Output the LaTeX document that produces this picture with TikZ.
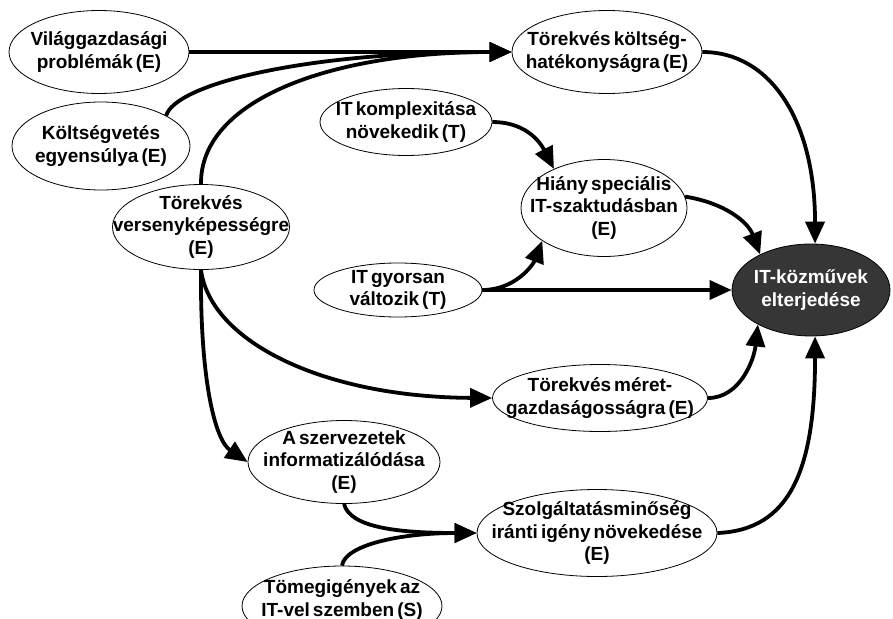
\documentclass[tikz,border=0pt]{standalone}
\usepackage{fontspec}
\setmainfont{Liberation Sans}
\usetikzlibrary{shapes.geometric,arrows.meta}
\definecolor{goalgray}{HTML}{363636}

\tikzset{
  bubble/.style={ellipse, draw=black, line width=0.8pt, fill=white, inner sep=0pt},
  goal/.style={ellipse, draw=black, line width=0.8pt, fill=goalgray, inner sep=0pt},
  bubbletext/.style={font={\bfseries\fontsize{19}{22.5}\selectfont\spaceskip=0.16em plus 0.05em},
                     align=center, inner sep=0pt, text=black},
  goaltext/.style={bubbletext, text=white},
  flow/.style={line width=3.8pt, -{Triangle[length=22pt,width=19pt]}},
}

\begin{document}
\begin{tikzpicture}[x=1pt, y=-1pt]
\useasboundingbox (0,0) rectangle (893,618);
\clip (0,0) rectangle (893,618);

% causes and intermediate effects
\node[bubble, minimum width=180pt, minimum height=83pt,
      label={[bubbletext]center:{Világgazdasági\\problémák (E)}}] (vg) at (99,52) {};
\node[bubble, minimum width=190pt, minimum height=83pt,
      label={[bubbletext]center:{Törekvés költség-\\hatékonyságra (E)}}] (tk) at (607,52) {};
\node[bubble, minimum width=178pt, minimum height=88pt,
      label={[bubbletext]center:{Költségvetés\\egyensúlya (E)}}] (kv) at (101,146) {};
\node[bubble, minimum width=172pt, minimum height=67pt,
      label={[bubbletext]center:{IT komplexitása\\növekedik (T)}}] (ik) at (406,122) {};
\node[bubble, minimum width=166pt, minimum height=97pt,
      label={[bubbletext]center:{Hiány speciális\\IT-szaktudásban\\(E)}}] (hs) at (604,208) {};
\node[bubble, minimum width=177pt, minimum height=85pt,
      label={[bubbletext]center:{Törekvés\\versenyképességre\\(E)}}] (tv) at (201,227) {};
\node[bubble, minimum width=168pt, minimum height=54pt,
      label={[bubbletext]center:{IT gyorsan\\változik (T)}}] (ig) at (398,290) {};
\node[bubble, minimum width=215pt, minimum height=67pt,
      label={[bubbletext]center:{Törekvés méret-\\gazdaságosságra (E)}}] (tm) at (600,398) {};
\node[bubble, minimum width=192pt, minimum height=83pt,
      label={[bubbletext]center:{A szervezetek\\informatizálódása\\(E)}}] (szerv) at (344,462) {};
\node[bubble, minimum width=240pt, minimum height=87pt,
      label={[bubbletext]center:{Szolgáltatásminőség\\iránti igény növekedése\\(E)}}] (sz) at (597,533) {};
\node[bubble, minimum width=200pt, minimum height=80pt,
      label={[bubbletext, yshift=6pt]center:{Tömegigények az\\IT-vel szemben (S)}}] (tg) at (342,606) {};

% final outcome
\node[goal, minimum width=158pt, minimum height=92pt,
      label={[goaltext]center:{IT-közművek\\elterjedése}}] (kz) at (811,290) {};

% influences
\draw[flow] (vg.east) -- (tk.west);
\draw[flow] (kv.25) .. controls (175,85) and (300,52) .. (tk.west);
\draw[flow] (tv.north) .. controls (200,100) and (330,52) .. (tk.west);

\draw[flow] (ik.east) .. controls (522,122) and (538,138) .. (hs.142);
\draw[flow] (ig.east) .. controls (515,290) and (533,265) .. (hs.208);
\draw[flow] (ig.east) -- (kz.west);

\draw[flow] (tk.east) .. controls (770,52) and (815,120) .. (kz.85);
\draw[flow] (hs.8) .. controls (725,203) and (748,222) .. (kz.145);
\draw[flow] (tm.east) .. controls (740,398) and (754,360) .. (kz.213);
\draw[flow] (sz.east) .. controls (790,530) and (815,470) .. (kz.275);

\draw[flow] (tv.south) .. controls (200,380) and (215,440) .. (szerv.west);
\draw[flow] (tv.south) .. controls (210,340) and (320,397) .. (tm.west);

\draw[flow] (szerv.south) .. controls (350,528) and (400,533) .. (sz.west);
\draw[flow] (tg.north) .. controls (345,545) and (400,533) .. (sz.west);
\end{tikzpicture}
\end{document}
